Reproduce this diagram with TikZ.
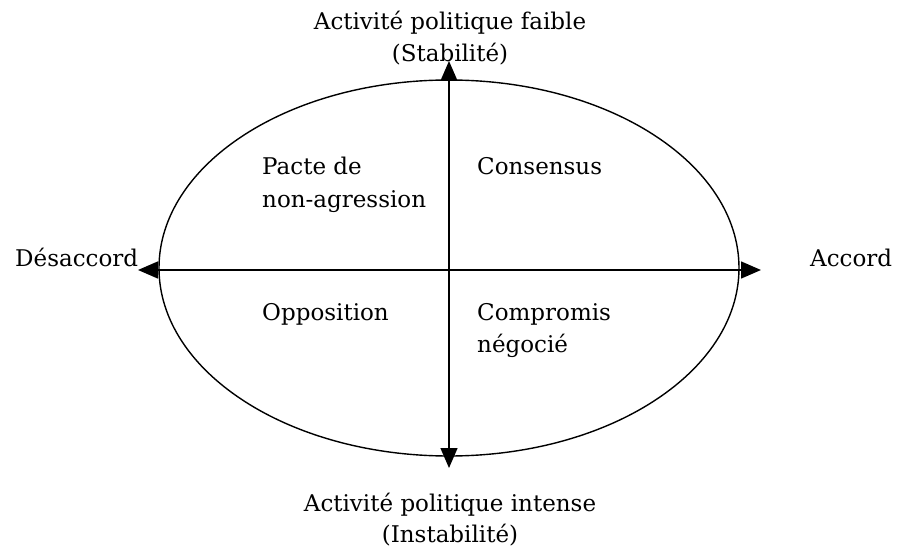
\documentclass[tikz,border=0pt]{standalone}
\usepackage{fontspec}
\setmainfont{DejaVu Serif}
\usetikzlibrary{arrows.meta,shapes.geometric}
\begin{document}
\begin{tikzpicture}[x=1pt,y=-1pt,
  lbl/.style={font=\fontsize{23}{32}\selectfont, inner sep=0pt, anchor=base west},
  ttl/.style={font=\fontsize{23}{32}\selectfont, inner sep=0pt, anchor=base},
  axis/.style={line width=1.4pt, -{Triangle[length=20pt,width=17pt]}},
  ell/.style={line width=1.4pt}]
\useasboundingbox (0,0) rectangle (898,551);
\node[ell, draw, ellipse, minimum width=580, minimum height=376, inner sep=0pt] (E) at (449,268) {};
\coordinate (L) at (138,270);
\coordinate (R) at (761,270);
\coordinate (T) at (449,61);
\coordinate (B) at (449,468);
\coordinate (M) at (449,270);
\draw[axis] (M) -- (L);
\draw[axis] (M) -- (R);
\draw[axis] (M) -- (T);
\draw[axis] (M) -- (B);
\node[ttl] (top1) at (450,30) {Activité politique faible};
\node[ttl] (top2) at (450,62) {(Stabilité)};
\node[ttl] (bot1) at (450,511) {Activité politique intense};
\node[ttl] (bot2) at (450,542) {(Instabilité)};
\node[lbl] (des) at (15,266) {Désaccord};
\node[lbl] (acc) at (810,266) {Accord};
\node[lbl] (pacte1) at (262,174) {Pacte de};
\node[lbl] (pacte2) at (262,207) {non-agression};
\node[lbl] (cons) at (477,174) {Consensus};
\node[lbl] (opp) at (262,320) {Opposition};
\node[lbl] (comp1) at (477,320) {Compromis};
\node[lbl] (comp2) at (477,352) {négocié};
\end{tikzpicture}
\end{document}
